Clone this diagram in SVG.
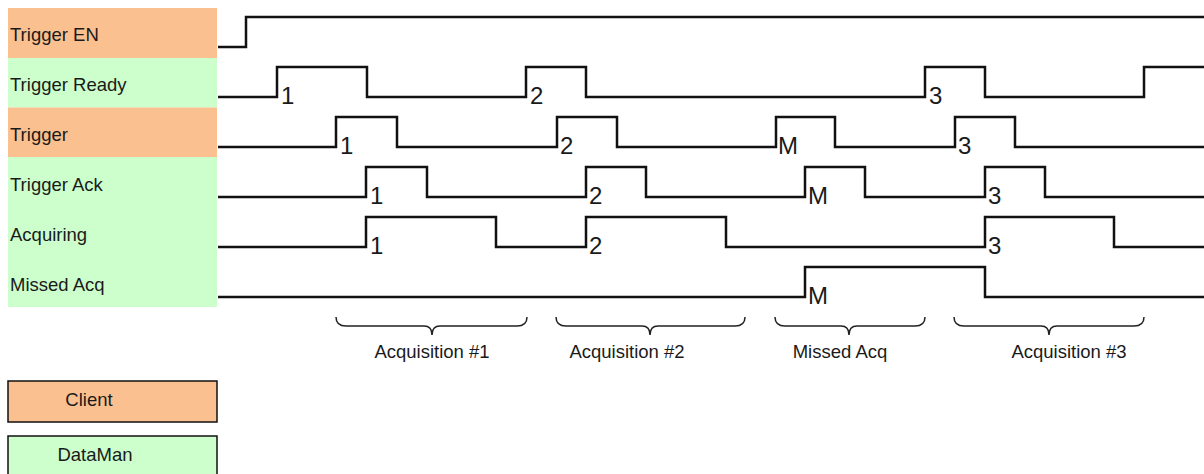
<svg xmlns="http://www.w3.org/2000/svg" width="1204" height="474" viewBox="0 0 1204 474">
<style>
.client{fill:#FAC090}
.dm{fill:#CCFFCC}
.lbl{font-family:"Liberation Sans",Arial,sans-serif;font-size:18.5px;fill:#1a1a1a}
.num{font-family:"Liberation Sans",Arial,sans-serif;font-size:24px;fill:#1a1a1a}
.sig{fill:none;stroke:#111;stroke-width:2.5;stroke-linejoin:miter}
.brace{fill:none;stroke:#222;stroke-width:1.5}
.leg{stroke:#111;stroke-width:1.5}
</style>
<rect width="1204" height="474" fill="#fff"/>
<g id="labels">
<g id="lbl-trigger-en"><rect class="client" x="8" y="8" width="209" height="50"/><text class="lbl" x="10" y="41">Trigger EN</text></g>
<g id="lbl-trigger-ready"><rect class="dm" x="8" y="58" width="209" height="49.5"/><text class="lbl" x="10" y="91">Trigger Ready</text></g>
<g id="lbl-trigger"><rect class="client" x="8" y="107.5" width="209" height="49.5"/><text class="lbl" x="10" y="141">Trigger</text></g>
<g id="lbl-trigger-ack"><rect class="dm" x="8" y="157" width="209" height="50"/><text class="lbl" x="10" y="191">Trigger Ack</text></g>
<g id="lbl-acquiring"><rect class="dm" x="8" y="207" width="209" height="50"/><text class="lbl" x="10" y="241">Acquiring</text></g>
<g id="lbl-missed-acq"><rect class="dm" x="8" y="257" width="209" height="50"/><text class="lbl" x="10" y="291">Missed Acq</text></g>
</g>
<g id="connectors">
<polyline id="sig-trigger-en" class="sig" points="218,47 246,47 246,17 1204,17"/>
<polyline id="sig-trigger-ready" class="sig" points="218,97 277,97 277,67 367,67 367,97 526,97 526,67 586,67 586,97 925,97 925,67 985,67 985,97 1144,97 1144,67 1204,67"/>
<polyline id="sig-trigger" class="sig" points="218,147 336,147 336,117 397,117 397,147 557,147 557,117 617,117 617,147 776,147 776,117 835,117 835,147 955,147 955,117 1015,117 1015,147 1204,147"/>
<polyline id="sig-trigger-ack" class="sig" points="218,197 366,197 366,167 427,167 427,197 586,197 586,167 646,167 646,197 805,197 805,167 865,167 865,197 985,197 985,167 1045,167 1045,197 1204,197"/>
<polyline id="sig-acquiring" class="sig" points="218,247 366,247 366,217 496,217 496,247 586,247 586,217 726,217 726,247 985,247 985,217 1114,217 1114,247 1204,247"/>
<polyline id="sig-missed-acq" class="sig" points="218,297 805,297 805,267 985,267 985,297 1204,297"/>
</g>
<g id="pulse-labels">
<text class="num" x="281" y="104">1</text>
<text class="num" x="530" y="104">2</text>
<text class="num" x="929" y="104">3</text>
<text class="num" x="340" y="154">1</text>
<text class="num" x="560" y="154">2</text>
<text class="num" x="778" y="154">M</text>
<text class="num" x="958" y="154">3</text>
<text class="num" x="370" y="204">1</text>
<text class="num" x="589" y="204">2</text>
<text class="num" x="808" y="204">M</text>
<text class="num" x="988" y="204">3</text>
<text class="num" x="370" y="254">1</text>
<text class="num" x="589" y="254">2</text>
<text class="num" x="988" y="254">3</text>
<text class="num" x="808" y="304">M</text>
</g>
<g id="brace-acq1">
<path class="brace" d="M336,317 Q336,326 346,326 L424,326 Q432,326 432,335 Q432,326 440,326 L517,326 Q527,326 527,317"/>
<text class="lbl" x="432" y="358" text-anchor="middle">Acquisition #1</text>
</g>
<g id="brace-acq2">
<path class="brace" d="M556,317 Q556,326 566,326 L642,326 Q650,326 650,335 Q650,326 658,326 L735,326 Q745,326 745,317"/>
<text class="lbl" x="627" y="358" text-anchor="middle">Acquisition #2</text>
</g>
<g id="brace-missed">
<path class="brace" d="M775,317 Q775,326 785,326 L841,326 Q849,326 849,335 Q849,326 857,326 L915,326 Q925,326 925,317"/>
<text class="lbl" x="840" y="358" text-anchor="middle">Missed Acq</text>
</g>
<g id="brace-acq3">
<path class="brace" d="M954,317 Q954,326 964,326 L1041,326 Q1049,326 1049,335 Q1049,326 1057,326 L1134,326 Q1144,326 1144,317"/>
<text class="lbl" x="1069" y="358" text-anchor="middle">Acquisition #3</text>
</g>
<g id="legend-client">
<rect class="client leg" x="8" y="381" width="209" height="41"/>
<text class="lbl" x="89" y="406" text-anchor="middle">Client</text>
</g>
<g id="legend-dataman">
<rect class="dm leg" x="8" y="436" width="209" height="45"/>
<text class="lbl" x="95" y="461" text-anchor="middle">DataMan</text>
</g>
</svg>
